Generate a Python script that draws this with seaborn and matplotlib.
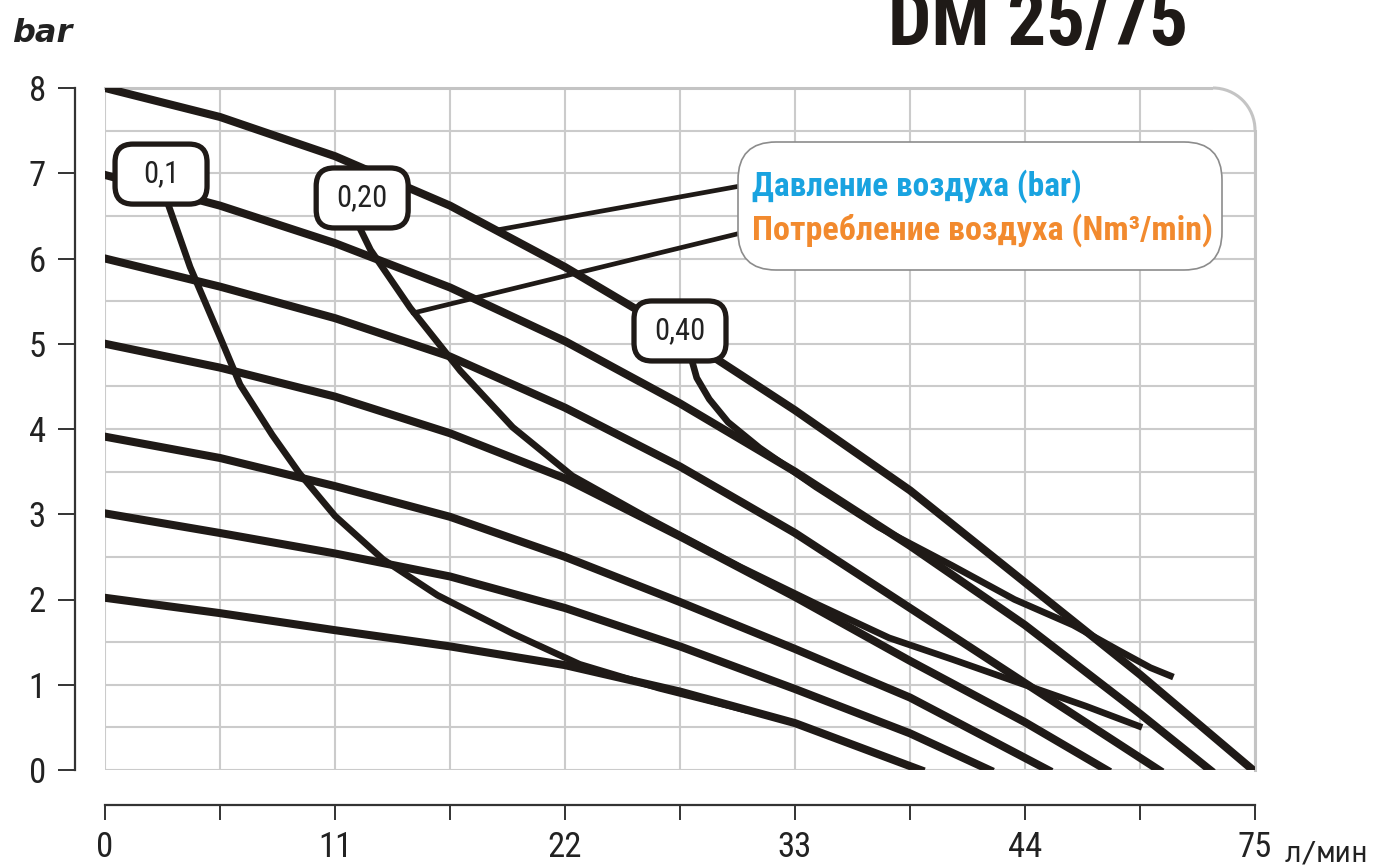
import numpy as np
import pandas as pd
import matplotlib
matplotlib.use('Agg')
import matplotlib.pyplot as plt
import seaborn as sns
from matplotlib import font_manager
from matplotlib.patches import FancyBboxPatch, Rectangle, Arc
from matplotlib.transforms import ScaledTranslation

# ========== данные ==========
# ось x в собственных единицах шкалы (деление 55 подписано "75")
x_tick_labels = ['0', '11', '22', '33', '44', '75']

# кривые давления (bar)
p8_x = [0, 5.5, 11, 16.5, 22, 27.5, 33, 38.5, 44, 49.5, 54.9]
p8_y = [8.0, 7.66, 7.2, 6.62, 5.9, 5.1, 4.22, 3.28, 2.2, 1.12, 0.0]
p7_x = [0, 5.5, 11, 16.5, 22, 27.5, 33, 38.5, 44, 49.5, 52.85]
p7_y = [6.98, 6.62, 6.18, 5.66, 5.03, 4.3, 3.5, 2.63, 1.7, 0.66, 0.0]
p6_x = [0, 5.5, 11, 16.5, 22, 27.5, 33, 38.5, 44, 50.4]
p6_y = [6.0, 5.67, 5.3, 4.85, 4.25, 3.56, 2.78, 1.9, 1.02, 0.0]
p5_x = [0, 5.5, 11, 16.5, 22, 27.5, 33, 38.5, 44, 47.9]
p5_y = [5.0, 4.72, 4.38, 3.95, 3.42, 2.74, 2.03, 1.28, 0.56, 0.0]
p4_x = [0, 5.5, 11, 16.5, 22, 27.5, 33, 38.5, 45.1]
p4_y = [3.91, 3.66, 3.33, 2.97, 2.5, 1.97, 1.42, 0.85, 0.0]
p3_x = [0, 5.5, 11, 16.5, 22, 27.5, 33, 38.5, 42.3]
p3_y = [3.01, 2.78, 2.54, 2.27, 1.9, 1.45, 0.95, 0.43, 0.0]
p2_x = [0, 5.5, 11, 16.5, 22, 27.5, 33, 39.0]
p2_y = [2.02, 1.84, 1.64, 1.45, 1.23, 0.92, 0.55, 0.0]

# кривые расхода воздуха (Nm3/min)
c01_x = [2.85, 3.0, 4.07, 5.5, 6.46, 8.0, 9.3, 11.0, 13.3, 15.9, 19.5, 22.7, 26.5, 30.7]
c01_y = [6.85, 6.65, 5.9, 5.08, 4.52, 3.93, 3.48, 2.98, 2.47, 2.05, 1.6, 1.24, 0.96, 0.70]
c02_x = [11.8, 12.0, 12.7, 14.6, 17.0, 19.5, 22.35, 26.0, 30.4, 34.0, 37.5, 40.5, 43.4, 46.9, 49.6]
c02_y = [6.7, 6.45, 6.1, 5.42, 4.68, 4.02, 3.45, 2.95, 2.38, 1.95, 1.55, 1.3, 1.05, 0.75, 0.5]
c04_x = [27.8, 27.9, 28.3, 28.9, 29.8, 31.3, 34.0, 37.0, 40.5, 43.5, 46.3, 48.5, 50.0, 51.1]
c04_y = [5.1, 4.95, 4.6, 4.35, 4.08, 3.78, 3.32, 2.85, 2.4, 2.0, 1.7, 1.4, 1.2, 1.09]

# подписи расхода
flow_labels = ['0,1', '0,20', '0,40']
flow_label_x = [2.68, 12.3, 27.5]
flow_label_y = [6.99, 6.71, 5.15]

# выноски к легенде
blue_ptr_x = [18.65, 30.6]
blue_ptr_y = [6.33, 6.86]
orange_ptr_x = [14.73, 30.6]
orange_ptr_y = [5.36, 6.31]

legend_texts = ['Давление воздуха (bar)', 'Потребление воздуха (Nm³/min)']
legend_colors = ['#19a3e0', '#f28a2e']

ink = '#1f1a17'
grid_c = '#cbcbcb'

# ========== оформление ==========
sns.set_style('white')
avail = {f.name for f in font_manager.fontManager.ttflist}
narrow = next((n for n in ['Roboto Condensed', 'Liberation Sans Narrow',
                           'Open Sans Condensed'] if n in avail), 'DejaVu Sans')
plt.rcParams['font.family'] = [narrow, 'DejaVu Sans']

W, H = 1392, 866
fig = plt.figure(figsize=(W / 100, H / 100), dpi=100)
ax = fig.add_axes([105 / W, 1 - 770 / H, 1150 / W, 682 / H])

pressure = pd.concat([
    pd.DataFrame({'x': xs, 'y': ys, 'curve': name})
    for name, xs, ys in [('8', p8_x, p8_y), ('7', p7_x, p7_y), ('6', p6_x, p6_y),
                         ('5', p5_x, p5_y), ('4', p4_x, p4_y), ('3', p3_x, p3_y),
                         ('2', p2_x, p2_y)]
])
flow = pd.concat([
    pd.DataFrame({'x': xs, 'y': ys, 'curve': name})
    for name, xs, ys in [('0.1', c01_x, c01_y), ('0.2', c02_x, c02_y), ('0.4', c04_x, c04_y)]
])

sns.lineplot(data=pressure, x='x', y='y', units='curve', estimator=None, sort=False,
             color=ink, linewidth=5.8, solid_capstyle='projecting',
             solid_joinstyle='round', legend=False, ax=ax, zorder=3)
sns.lineplot(data=flow, x='x', y='y', units='curve', estimator=None, sort=False,
             color=ink, linewidth=4.8, solid_capstyle='butt',
             solid_joinstyle='round', legend=False, ax=ax, zorder=3)

ax.plot(blue_ptr_x, blue_ptr_y, color=ink, lw=3.4, zorder=6, clip_on=False)
ax.plot(orange_ptr_x, orange_ptr_y, color=ink, lw=3.4, zorder=6, clip_on=False)

# оси
ax.set_xlim(0, 55)
ax.set_ylim(0, 8)
ax.set_xlabel('')
ax.set_ylabel('')
xt = np.arange(0, 55.1, 5.5)
ax.set_xticks(xt)
ax.set_xticklabels([x_tick_labels[i // 2] if i % 2 == 0 else '' for i in range(len(xt))])
ax.set_yticks(range(9))
ax.set_yticks(np.arange(0, 8.01, 0.5), minor=True)
ax.grid(True, which='both', color=grid_c, lw=1.5)
ax.tick_params(axis='y', which='minor', length=0)
ax.tick_params(axis='y', which='major', left=True, direction='out', length=12,
               width=1.4, color='#333333', labelsize=25, pad=9, labelcolor='#222222')
ax.tick_params(axis='x', which='major', bottom=True, direction='out', length=11,
               width=1.4, color='#333333', labelsize=25, pad=8, labelcolor='#222222')

ax.spines['left'].set_position(('outward', 21.6))
ax.spines['bottom'].set_position(('outward', 25.2))
for s in ['left', 'bottom']:
    ax.spines[s].set_color('#333333')
    ax.spines[s].set_linewidth(1.6)
for s in ['top', 'right']:
    ax.spines[s].set_color('#c4c4c4')
    ax.spines[s].set_linewidth(2.2)

# скруглённый правый верхний угол поля
inch = fig.dpi_scale_trans
fig.add_artist(Rectangle((12.13, 7.36), 0.5, 0.5, transform=inch, fc='white',
                         ec='none', zorder=10))
fig.add_artist(Arc((12.13, 7.36), 0.84, 0.84, theta1=0, theta2=90, transform=inch,
                   color='#c4c4c4', lw=2.2, zorder=11))

# подписи расхода в рамках
for lab, lx, ly in zip(flow_labels, flow_label_x, flow_label_y):
    tr = inch + ScaledTranslation(lx, ly, ax.transData)
    ax.add_patch(FancyBboxPatch((-0.46, -0.30), 0.92, 0.60,
                                boxstyle='round,pad=0,rounding_size=0.18',
                                transform=tr, fc='white', ec=ink, lw=3.8,
                                zorder=7, clip_on=False))
    ax.text(lx, ly, lab, ha='center', va='center', fontsize=22, color='#222222',
            zorder=8)

# легенда
fig.add_artist(FancyBboxPatch((7.38, 5.96), 4.84, 1.28,
                              boxstyle='round,pad=0,rounding_size=0.38',
                              transform=inch, fc='white', ec='#8c8c8c', lw=1.2,
                              zorder=5))
renderer = fig.canvas.get_renderer()
for txt, col, base, width in zip(legend_texts, legend_colors, [196, 240], [330, 463]):
    t = fig.text(752 / W, 1 - base / H, txt, color=col, fontsize=23, weight='bold',
                 va='baseline', ha='left', zorder=12)
    w = t.get_window_extent(renderer).width
    t.set_fontsize(23 * width / w)

# заголовок и единицы
t = fig.text(1038 / W, 1 - 45 / H, 'DM 25/75', fontsize=44, weight='bold',
             ha='center', va='baseline', color=ink)
w = t.get_window_extent(renderer).width
t.set_fontsize(44 * 300 / w)
fig.text(12 / W, 1 - 42 / H, 'bar', fontsize=23, weight='bold', style='italic',
         family='DejaVu Sans', color='#222222', va='baseline')
fig.text(1285 / W, 1 - 861 / H, 'л/мин', fontsize=20, family='DejaVu Sans Mono',
         color='#222222', va='baseline')

fig.savefig('out.png', dpi=100)
